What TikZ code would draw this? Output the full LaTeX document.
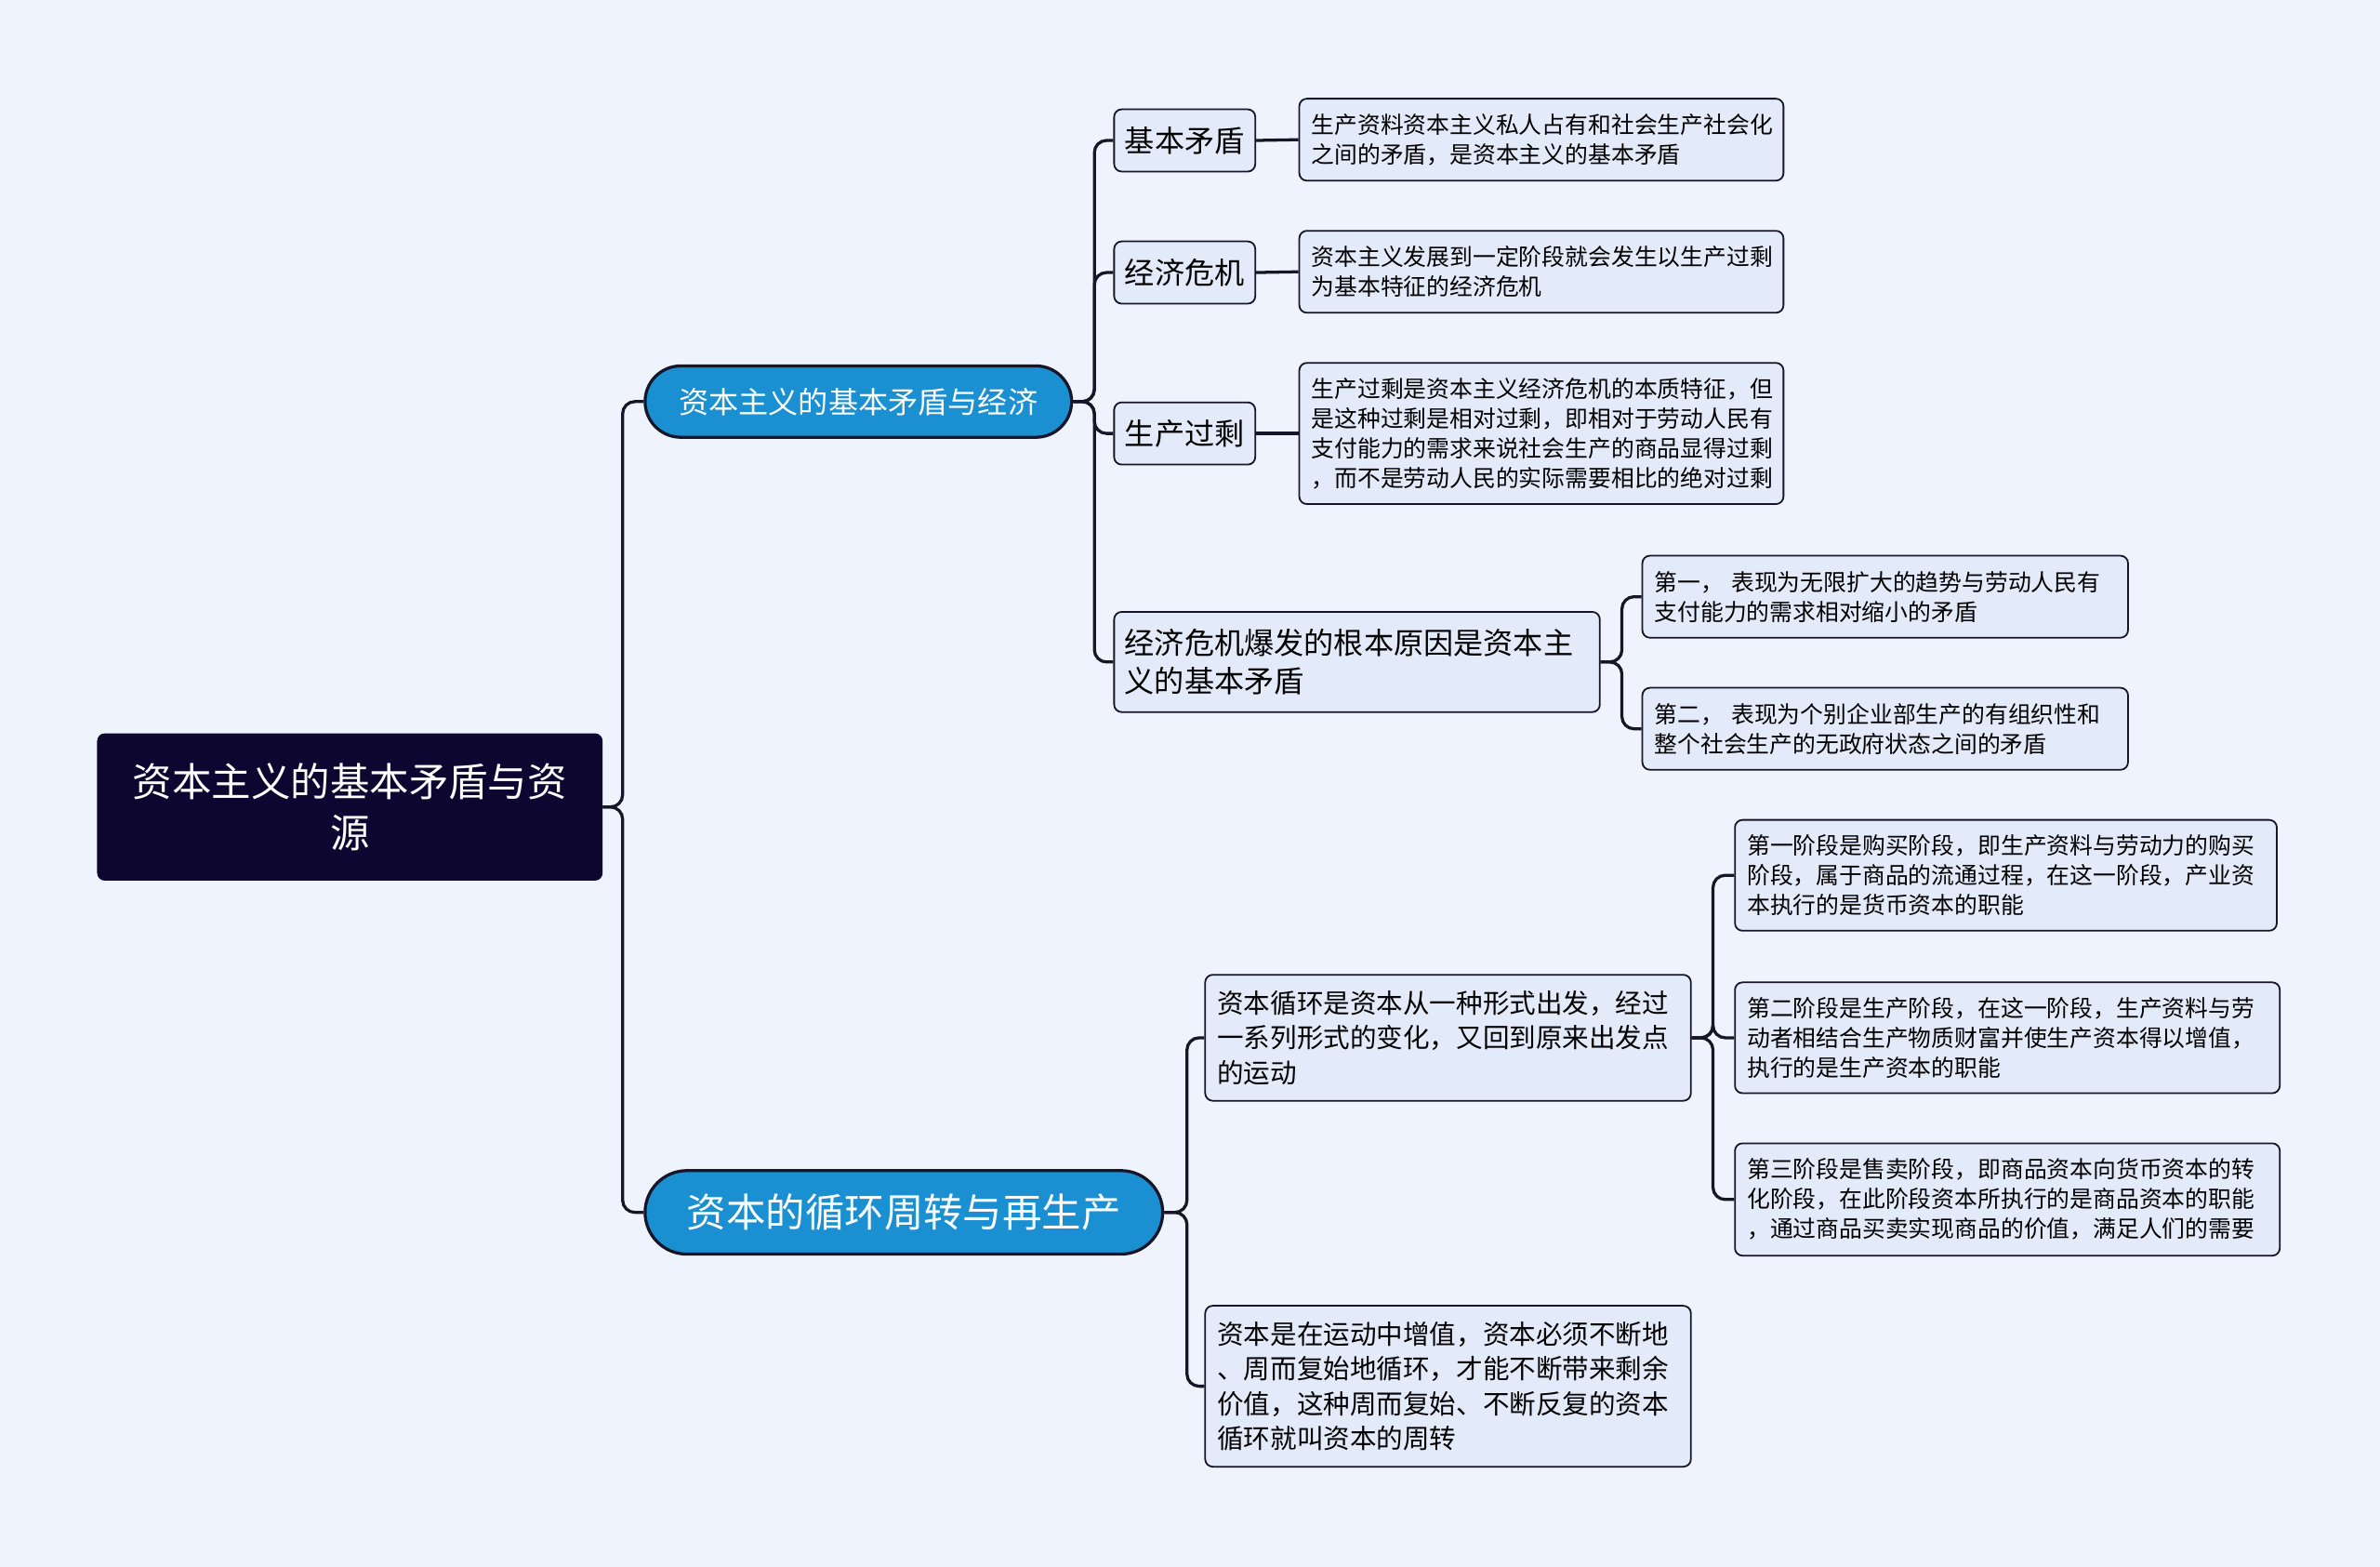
\documentclass[tikz,border=0pt]{standalone}
\usepackage{fontspec}
\setmainfont{Noto Sans CJK SC}
\definecolor{bgC}{HTML}{EEF3FD}
\definecolor{boxC}{HTML}{E3EAFA}
\definecolor{lineC}{HTML}{161628}
\definecolor{blueC}{HTML}{1A8FD1}
\definecolor{rootC}{HTML}{0C0630}
\tikzset{
  conn/.style={draw=lineC, line width=2pt, rounded corners=8pt},
  box/.style={draw=lineC, fill=boxC, line width=1.1pt, rounded corners=5pt, inner ysep=0pt, text=black},
  leaf/.style={box, inner xsep=8pt, align=left, font=\fontsize{15.2}{19.6}\selectfont},
  leafb/.style={box, inner xsep=8pt, align=left, font=\fontsize{17.5}{23}\selectfont},
  mid/.style={box, inner xsep=0pt, align=center, minimum width=93pt, minimum height=41pt, font=\fontsize{19.7}{25}\selectfont},
  midw/.style={box, inner xsep=7pt, align=left, font=\fontsize{19.7}{25}\selectfont},
  pill/.style={draw=lineC, fill=blueC, line width=2pt, text=white, inner sep=0pt, align=center},
}
\begin{document}
\begin{tikzpicture}[x=1pt,y=-1pt]
\useasboundingbox[fill=bgC] (0,0) rectangle (1568,1032);
% root
\node[fill=rootC, rounded corners=5pt, minimum width=333pt, minimum height=97pt, text=white, align=center, inner sep=0pt, font=\fontsize{26}{34}\selectfont] (root) at (230.5,531.5) {资本主义的基本矛盾与资\\源};
% branches
\node[pill, minimum width=281pt, minimum height=47pt, rounded corners=23.5pt, font=\fontsize{19.7}{24}\selectfont] (b1) at (565.5,264.5) {资本主义的基本矛盾与经济};
\node[pill, minimum width=341pt, minimum height=55pt, rounded corners=27.5pt, font=\fontsize{26}{30}\selectfont] (b2) at (595.5,798.5) {资本的循环周转与再生产};
% branch 1 children
\node[mid] (m1) at (780.5,92.5) {基本矛盾};
\node[mid] (m2) at (780.5,179.5) {经济危机};
\node[mid] (m3) at (780.5,285.5) {生产过剩};
\node[midw, text width=306pt, minimum height=66pt] (m4) at (894,436) {经济危机爆发的根本原因是资本主\\义的基本矛盾};
\node[leaf, text width=303pt, minimum height=54pt] (l1) at (1015.5,92) {生产资料资本主义私人占有和社会生产社会化\\之间的矛盾，是资本主义的基本矛盾};
\node[leaf, text width=303pt, minimum height=54pt] (l2) at (1015.5,179) {资本主义发展到一定阶段就会发生以生产过剩\\为基本特征的经济危机};
\node[leaf, text width=303pt, minimum height=93pt] (l3) at (1015.5,285.5) {生产过剩是资本主义经济危机的本质特征，但\\是这种过剩是相对过剩，即相对于劳动人民有\\支付能力的需求来说社会生产的商品显得过剩\\，而不是劳动人民的实际需要相比的绝对过剩};
\node[leaf, text width=304pt, minimum height=54pt] (l4) at (1242,393) {第一， 表现为无限扩大的趋势与劳动人民有\\支付能力的需求相对缩小的矛盾};
\node[leaf, text width=304pt, minimum height=54pt] (l5) at (1242,480) {第二， 表现为个别企业部生产的有组织性和\\整个社会生产的无政府状态之间的矛盾};
% branch 2 children
\node[leafb, text width=304pt, minimum height=83pt] (n1) at (954,683.5) {资本循环是资本从一种形式出发，经过\\一系列形式的变化，又回到原来出发点\\的运动};
\node[leafb, text width=304pt, minimum height=106pt] (n2) at (954,913) {资本是在运动中增值，资本必须不断地\\、周而复始地循环，才能不断带来剩余\\价值，这种周而复始、不断反复的资本\\循环就叫资本的周转};
\node[leaf, text width=341pt, minimum height=73pt] (p1) at (1321.5,576.5) {第一阶段是购买阶段，即生产资料与劳动力的购买\\阶段，属于商品的流通过程，在这一阶段，产业资\\本执行的是货币资本的职能};
\node[leaf, text width=343pt, minimum height=73pt] (p2) at (1322.5,683.5) {第二阶段是生产阶段，在这一阶段，生产资料与劳\\动者相结合生产物质财富并使生产资本得以增值，\\执行的是生产资本的职能};
\node[leaf, text width=343pt, minimum height=74pt] (p3) at (1322.5,790) {第三阶段是售卖阶段，即商品资本向货币资本的转\\化阶段，在此阶段资本所执行的是商品资本的职能\\，通过商品买卖实现商品的价值，满足人们的需要};
% connectors
\draw[conn] (root.east) -- ++(13,0) |- (b1.west);
\draw[conn] (root.east) -- ++(13,0) |- (b2.west);
\foreach \c in {m1,m2,m3,m4} \draw[conn] (b1.east) -- ++(14,0) |- (\c.west);
\draw[conn] (m1.east) -- (l1.west);
\draw[conn] (m2.east) -- (l2.west);
\draw[conn] (m3.east) -- (l3.west);
\foreach \c in {l4,l5} \draw[conn] (m4.east) -- ++(14,0) |- (\c.west);
\foreach \c in {n1,n2} \draw[conn] (b2.east) -- ++(15,0) |- (\c.west);
\foreach \c in {p1,p2,p3} \draw[conn] (n1.east) -- ++(14,0) |- (\c.west);
\end{tikzpicture}
\end{document}
